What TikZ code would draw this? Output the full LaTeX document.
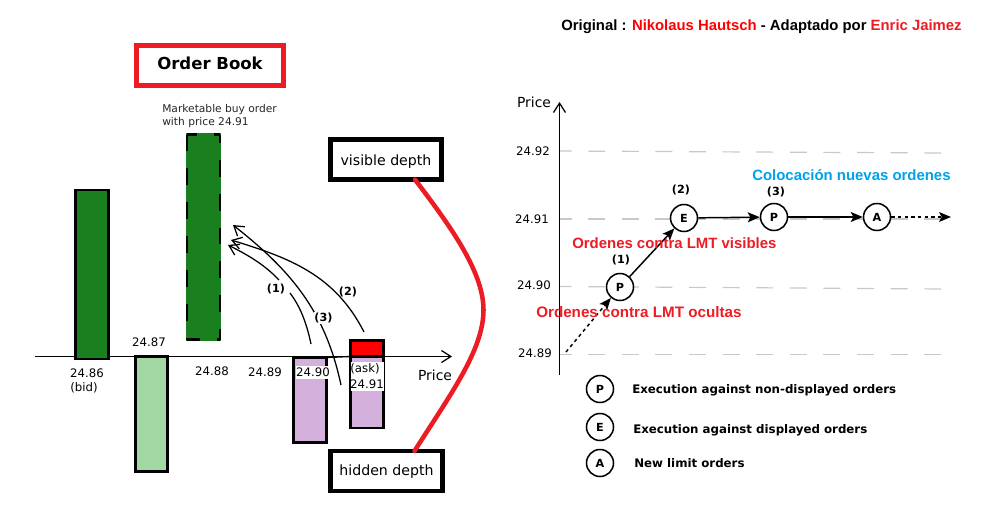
\documentclass[tikz,border=0pt]{standalone}
\usepackage{fontspec}
\setmainfont{DejaVu Sans}
\newfontfamily\arialb[BoldFont=Liberation Sans Bold]{Liberation Sans}
\usetikzlibrary{arrows.meta}
\newcommand\px[1]{#1*0.75pt}
\newcommand\fs[1]{\fontsize{#1}{#1}\selectfont}
\definecolor{dgreen}{HTML}{1A7F1F}
\definecolor{lgreen}{HTML}{A3D7A3}
\definecolor{lilac}{HTML}{D4B0DC}
\definecolor{rred}{HTML}{ED1C24}
\definecolor{cyanb}{HTML}{00A2E8}
\definecolor{grid}{HTML}{C8C8C8}
\tikzset{
  bar/.style={draw=black,line width=1.7pt,inner sep=0pt,outer sep=0pt},
  tbox/.style={draw=black,line width=3.4pt,inner sep=0pt,outer sep=0pt,minimum width={\px{111}},minimum height={\px{40}},font=\fs{10.6}},
  lab/.style={inner sep=0pt,font=\fs{8.8}},
  axlab/.style={inner sep=0pt,font=\fs{10.4}},
  num/.style={inner sep=1pt,font=\bfseries\fs{8.4}},
  openarr/.style={line width=0.95pt,-{Straight Barb[length=7pt,width=9pt,line width=0.95pt]}},
  thinline/.style={line width=1pt},
  hgrid/.style={draw=grid,line width=0.9pt,dash pattern=on 12.7pt off 12.5pt},
  circ/.style={circle,draw=black,line width=1.15pt,fill=white,minimum size={\px{27}},inner sep=0pt,font=\bfseries\fs{8.4}},
  heavy/.style={line width=1.1pt,-{Stealth[length=9pt,width=7.5pt,inset=2pt]}},
  dotarr/.style={line width=1.1pt,dash pattern=on 2.5pt off 2.5pt,-{Stealth[length=9pt,width=7.5pt,inset=2pt,line width=0pt]}},
  redtxt/.style={inner sep=0pt,text=rred,font=\arialb\bfseries\fs{11.2}},
  legtxt/.style={inner sep=0pt,anchor=west,font=\bfseries\fs{8.85}},
  dashedge/.style={line width=1.7pt,dash pattern=on 12.7pt off 12.7pt},
}
\begin{document}
\begin{tikzpicture}[x=0.75pt,y=-0.75pt]
\useasboundingbox[fill=white] (0,0) rectangle (982,510);

% title
\node[inner sep=0pt,anchor=west,font=\arialb\bfseries\fs{11.15}] (title) at (561,26.5)
  {Original : \textcolor{red}{Nikolaus Hautsch} - Adaptado por \textcolor{rred}{Enric Jaimez}};

% Order book title
\node[draw=rred,line width=3.75pt,inner sep=0pt,minimum width={\px{147}},minimum height={\px{40}},font=\bfseries\fs{12.4},text height=9.5pt,text depth=3pt] (ob) at (210,65.5) {Order Book};
\node[inner sep=0pt,anchor=north west,align=left,font=\fs{8},text=black!85] (mk) at (162,104)
  {Marketable buy order\\[2.2pt]with price 24.91};

% left axis
\coordinate (axL) at (35,356.5);
\coordinate (axR) at (452,356.5);
\draw[openarr] (axL) -- (axR);

% bars
\node[bar,fill=dgreen,minimum width={\px{33}},minimum height={\px{169}}] (b1) at (92,274.5) {};
\node[bar,fill=lgreen,minimum width={\px{32}},minimum height={\px{115}}] (b2) at (151.5,414) {};
\node[draw=dgreen,fill=dgreen,line width=1.7pt,inner sep=0pt,outer sep=0pt,minimum width={\px{33}},minimum height={\px{205}}] (b3) at (203.5,237) {};
\draw[dashedge] (b3.north west) -- (b3.south west);
\draw[dashedge,dash phase=6.45pt] (b3.north east) -- (b3.south east);
\draw[dashedge,dash phase=5.2pt] (b3.north west) -- (b3.north east);
\draw[dashedge,dash phase=3pt] (b3.south west) -- (b3.south east);
\node[bar,fill=lilac,minimum width={\px{33}},minimum height={\px{85}}] (b4) at (310,400) {};
\node[bar,fill=lilac,minimum width={\px{33}},minimum height={\px{71}}] (b5) at (367,392.5) {};
\node[bar,fill=red,minimum width={\px{33}},minimum height={\px{16}}] (b6) at (367,348.5) {};
\draw[thinline] (b4.north east) -- (b6.south west);
\draw[thinline] (b6.south west) -- (b6.south east);

% white boxes
\node[fill=white,inner sep=0pt,minimum width={\px{34}},minimum height={\px{13}},font=\fs{8.8}] (p90) at (313,372) {24.90};
\node[fill=white,inner sep=0pt,minimum width={\px{33}},minimum height={\px{29}}] (p91box) at (367,376.5) {};

% labels
\node[lab] (p86) at (87,373) {24.86};
\node[lab] (bid) at (84,388) {(bid)};
\node[lab] (p87) at (149,342) {24.87};
\node[lab] (p88) at (212,371) {24.88};
\node[lab] (p89) at (265,372) {24.89};
\node[lab] (ask) at (365,369) {(ask)};
\node[lab] (p91) at (367,384) {24.91};
\node[axlab] (price1) at (435,375.5) {Price};

% arrows to the dashed bar
\coordinate (a1s) at (311,344);
\coordinate (a1m) at (290,293);
\coordinate (a1n) at (279,280);
\coordinate (a1e) at (228,245);
\coordinate (a2s) at (364,332);
\coordinate (a2e) at (231,240);
\coordinate (a3s) at (341,385);
\coordinate (a3e) at (233,225);
\draw[line width=0.95pt] (a1s) .. controls (306,320) and (299,305) .. (a1m);
\draw[openarr] (a1n) .. controls (265,265) and (248,255) .. (a1e);
\draw[openarr] (a2s) .. controls (335,275) and (290,258) .. (a2e);
\draw[openarr] (a3s) .. controls (325,310) and (290,270) .. (a3e);
\node[num] (n1) at (276,288.5) {(1)};
\node[num] (n2) at (348,292) {(2)};
\node[num,fill=white,inner sep=0.5pt] (n3) at (323.5,318) {(3)};

% depth boxes
\node[tbox,fill=white,text height=10.8pt,text depth=2pt] (vis) at (386,159.5) {visible depth};
\node[tbox,fill=white,minimum width={\px{112}},text height=9.4pt,text depth=2pt] (hid) at (386.5,471) {hidden depth};
\coordinate (redA) at ([xshift={\px{-26.5}}]vis.south east);
\coordinate (redB) at ([xshift={\px{-28}}]hid.north east);
\draw[rred,line width=3.4pt,line cap=round] (redA) .. controls (447,222) and (483.5,270) .. (483.5,310) .. controls (483.5,350) and (450,395) .. (redB);

% right chart grid
\coordinate (g92a) at (560,151); \coordinate (g92b) at (945,153);
\coordinate (g91a) at (560,219); \coordinate (g91b) at (945,219);
\coordinate (g90a) at (560,286.5); \coordinate (g90b) at (945,289);
\coordinate (g89a) at (560,354.5); \coordinate (g89b) at (945,354.5);
\draw[hgrid,dash phase=4pt] (g92a) -- (g92b);
\draw[hgrid,dash phase=4pt] (g91a) -- (g91b);
\draw[hgrid,dash phase=4pt] (g90a) -- (g90b);
\draw[hgrid,dash phase=4pt] (g89a) -- (g89b);

% right axis
\coordinate (vB) at (559.5,375);
\coordinate (vT) at (559.5,102);
\draw[openarr] (vB) -- (vT);
\node[axlab] (price2) at (534,102) {Price};
\node[lab] (t92) at (533,151) {24.92};
\node[lab] (t91) at (532,219) {24.91};
\node[lab] (t90) at (534,285) {24.90};
\node[lab] (t89) at (535,353) {24.89};

% path
\coordinate (st) at (566,352);
\coordinate (en) at (951,217);
\node[circ] (P1) at (620,287) {P};
\node[circ] (E1) at (684,218) {E};
\node[circ] (P3) at (774,217) {P};
\node[circ] (A1) at (877,217) {A};
\draw[dotarr] (st) -- (P1);
\draw[heavy] (P1) -- (E1);
\draw[heavy] (E1) -- (P3);
\draw[heavy] (P3) -- (A1);
\draw[dotarr] (A1) -- (en);
\node[num] (m1) at (621,260) {(1)};
\node[num] (m2) at (681,190) {(2)};
\node[num] (m3) at (776,192) {(3)};

% coloured notes
\node[redtxt,anchor=west] (tv) at (572,243.5) {Ordenes contra LMT visibles};
\node[redtxt,anchor=west,font=\arialb\bfseries\fs{11.4}] (to) at (536,312.5) {Ordenes contra LMT ocultas};
\node[redtxt,anchor=west,text=cyanb] (tc) at (752,175) {Colocación nuevas ordenes};

% legend
\node[circ] (LP) at (600,389) {P};
\node[circ] (LE) at (600,427) {E};
\node[circ] (LA) at (600,463) {A};
\node[legtxt] (lt1) at (632,390.5) {Execution against non-displayed orders};
\node[legtxt] (lt2) at (633,430.5) {Execution against displayed orders};
\node[legtxt] (lt3) at (634,463.5) {New limit orders};
\end{tikzpicture}
\end{document}
